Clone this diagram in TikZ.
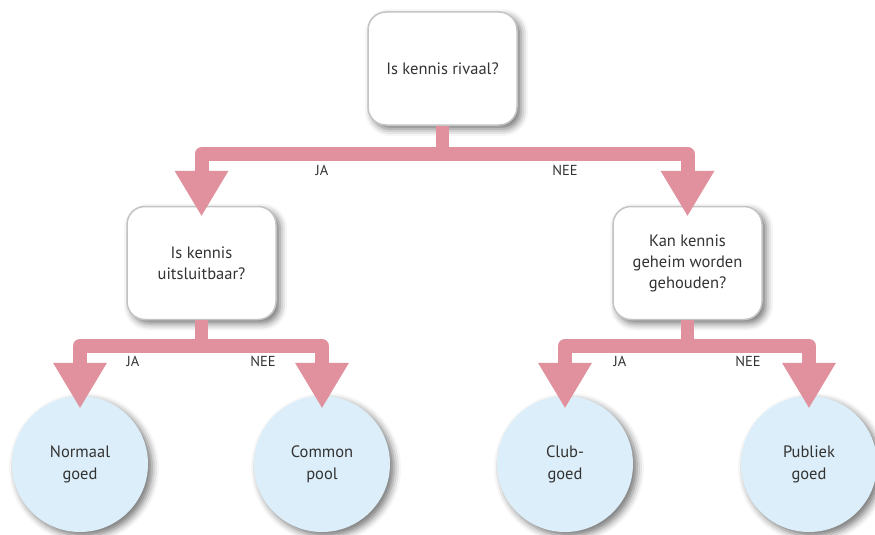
\documentclass[tikz,border=0pt]{standalone}
\usepackage{fontspec}
\setmainfont{PT Sans}
\usetikzlibrary{arrows.meta,shadows.blur,calc}
\definecolor{pinkarrow}{HTML}{E0919D}
\definecolor{circfill}{HTML}{DCEEF9}
\definecolor{boxline}{HTML}{C4C4C4}
\definecolor{txt}{HTML}{333333}
\begin{document}
\begin{tikzpicture}[x=1pt,y=1pt,
  question/.style={draw=boxline, line width=1.5pt, fill=white, rounded corners=18pt,
    minimum width=149pt, minimum height=113pt, align=center, text=txt,
    font=\fontsize{16.5}{21}\selectfont,
    blur shadow={shadow xshift=4pt, shadow yshift=-4pt, shadow blur radius=7pt, shadow opacity=55}},
  answer/.style={circle, fill=circfill, minimum size=136pt, inner sep=0pt, align=center, text=txt,
    font=\fontsize{16.5}{22}\selectfont,
    blur shadow={shadow xshift=4pt, shadow yshift=-4pt, shadow blur radius=7pt, shadow opacity=55}},
  conn/.style={draw=pinkarrow, line width=14pt, line join=round,
    {Triangle[width=54pt,length=45pt,line width=0pt]}-{Triangle[width=54pt,length=45pt,line width=0pt]}},
  stem/.style={draw=pinkarrow, line width=13pt},
  lbl/.style={text=txt, font=\fontsize{14.5}{16}\selectfont, inner sep=0pt}]
\useasboundingbox (0,0) rectangle (875,-535);

\node[question] (top) at (442.5,-68.5) {Is kennis rivaal?};
\node[question] (lm) at (201.5,-263) {Is kennis\\uitsluitbaar?};
\node[question] (rm) at (687.5,-263) {Kan kennis\\geheim worden\\gehouden?};
\node[answer] (c1) at (80,-464) {Normaal\\goed};
\node[answer] (c2) at (322,-464) {Common\\pool};
\node[answer] (c3) at (565,-464) {Club-\\goed};
\node[answer] (c4) at (809,-464) {Publiek\\goed};

% top split
\coordinate (j0) at (442.5,-160);
\draw[stem] (top.south) -- (j0);
\draw[conn] ($(lm.north)+(0,-10)$) |- (442.5,-154) -| ($(rm.north)+(0,-10)$);

% left split
\coordinate (j1) at (201.5,-352);
\draw[stem] (lm.south) -- (j1);
\draw[conn] ($(c1.north)+(0,-12)$) |- (201.5,-346) -| ($(c2.north)+(0,-12)$);

% right split
\coordinate (j2) at (687.5,-352);
\draw[stem] (rm.south) -- (j2);
\draw[conn] ($(c3.north)+(0,-12)$) |- (687.5,-346) -| ($(c4.north)+(0,-12)$);

\node[lbl] (l1) at (322,-170) {JA};
\node[lbl] (l2) at (565,-170) {NEE};
\node[lbl] (l3) at (133,-361) {JA};
\node[lbl] (l4) at (263,-361) {NEE};
\node[lbl] (l5) at (620,-361) {JA};
\node[lbl] (l6) at (748,-361) {NEE};
\end{tikzpicture}
\end{document}
